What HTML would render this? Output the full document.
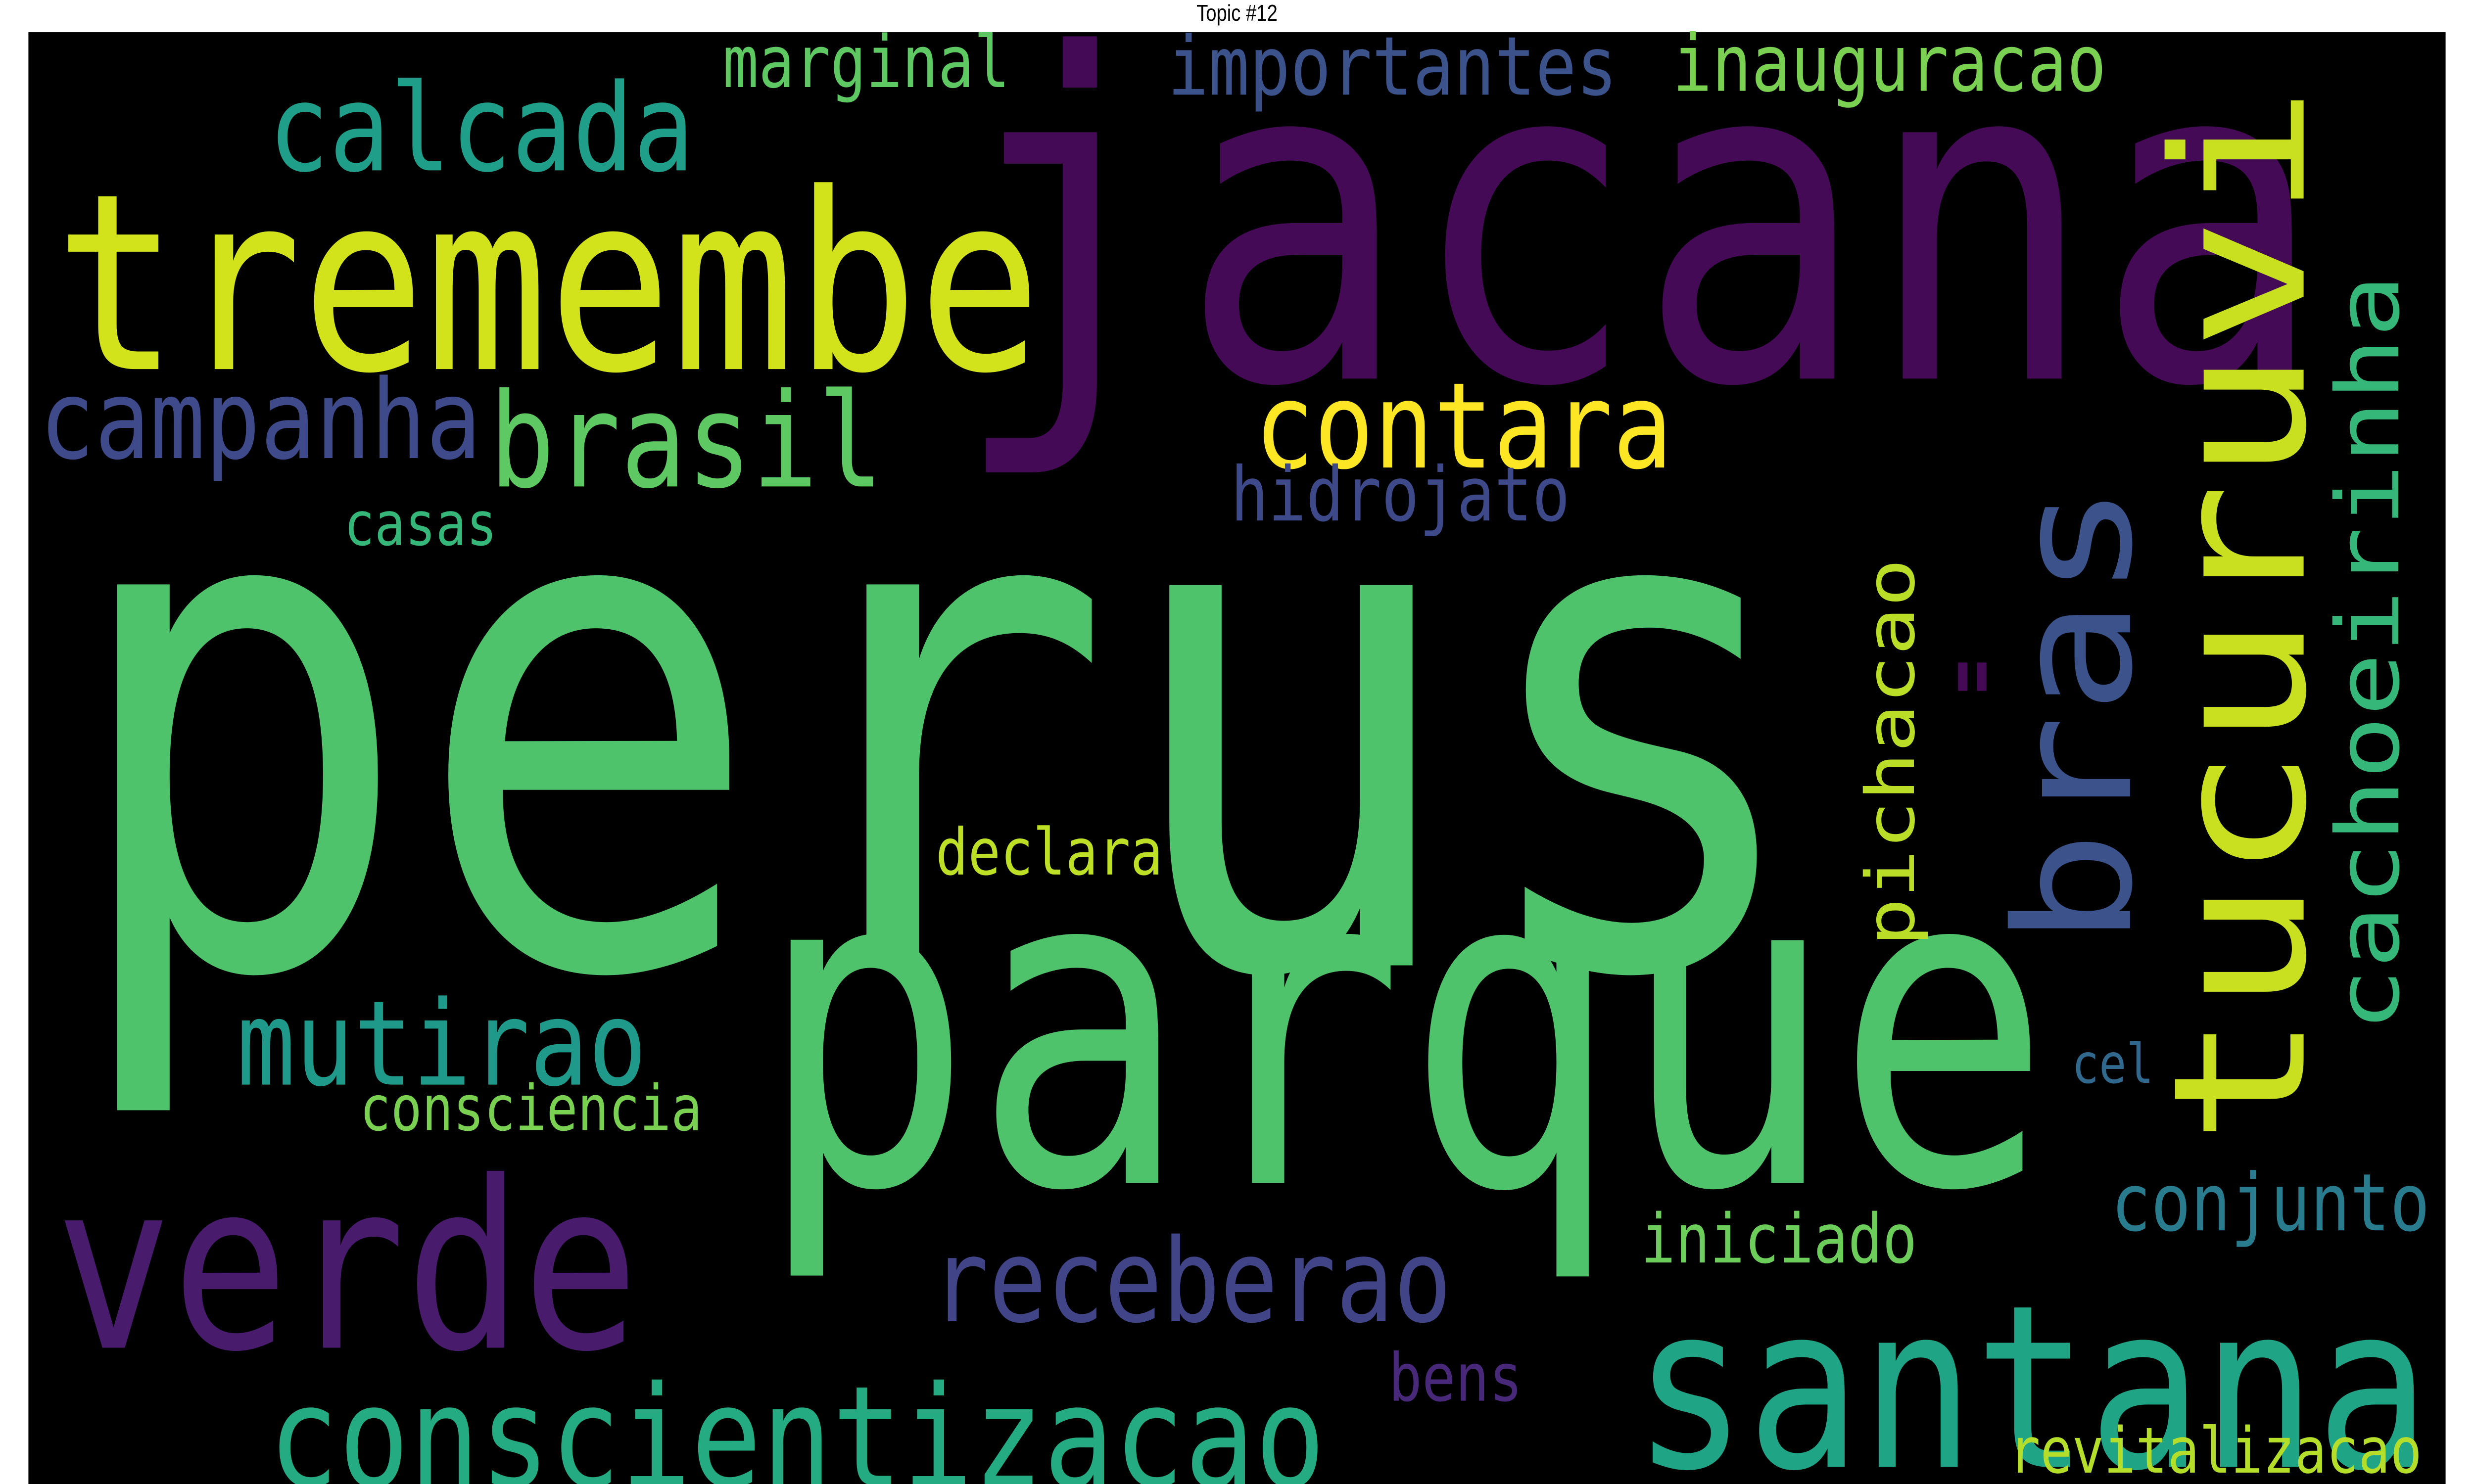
<!DOCTYPE html>
<html><head><meta charset="utf-8"><style>
html,body{margin:0;padding:0;background:#fff;width:100%;height:100%;overflow:hidden}
svg{display:block;position:absolute;left:0;top:0;width:100vw;height:100vh}
text.w{font-family:"DejaVu Sans Mono","Liberation Mono",monospace}
</style></head><body>
<svg id="cloud" viewBox="0 0 1568 784" preserveAspectRatio="none" xmlns="http://www.w3.org/2000/svg">
<text x="784" y="11" text-anchor="middle" font-family="Liberation Sans, sans-serif" font-size="12" fill="#000">Topic #12</text>
<rect x="18" y="17" width="1532" height="767" fill="#000"/>
<g fill="#440a55"><rect x="1241" y="350" width="6" height="15"/><rect x="1253" y="350" width="6" height="15"/></g>
<g id="words"></g>
</svg>
<script>
const words = ["perus","jacana","tremembe","parque","santana","verde","conscientizacao","receberao","mutirao","brasil","campanha","calcada","contara","importantes","inauguracao","marginal","hidrojato","casas","declara","consciencia","iniciado","bens","revitalizacao","cel","conjunto","bras","tucuruvi","pichacao","cachoeirinha"];
const sizes = [368,238,130,235,120,123,74,61,62,69,58,64,63,43,41.5,38,39.7,32,34,33,36,35,33.5,29,42,102,116,42.6,55];
const colors = ["#4ec36b","#440a55","#d2e21b","#4ec36b","#20a486","#481b6d","#25ab82","#414487","#1f9a8a","#5ec962","#3e4a89","#1f9e89","#fde725","#3b528b","#7ad151","#5ec962","#3e4989","#35b779","#bddf26","#7ad151","#6ccd5a","#482878","#b5de2b","#31688e","#297b8e","#3b528b","#c8e020","#bade28","#35b779"];
// layout: [x, baselineY, length, vertical]
const layout = [[40,510,1110,0],[603,200,870,0],[35,195,625,0],[480,625,820,0],[1035,775,505,0],[35,712,370,0],[170,785,670,0],[590,698,330,0],[150,573,260,0],[310,257,250,0],[25,242,280,0],[170,90,270,0],[795,247,265,0],[740,50,285,0],[1060,48,275,0],[458,46,182,0],[780,275,215,0],[218,288,97,0],[593,462,144,0],[228,597,217,0],[1040,667,175,0],[880,740,85,0],[1273,778,262,0],[1313,572,52,0],[1338,650,202,0],[1350,500,245,1],[1460,605,560,1],[1213,500,205,1],[1520,545,400,1]];
const g = document.getElementById('words');
const NS = "http://www.w3.org/2000/svg";
for (let i = 0; i < words.length; i++) {
  const t = document.createElementNS(NS, 'text');
  
  
  t.setAttribute('class', 'w');
  t.setAttribute('font-size', sizes[i]);
  t.setAttribute('fill', colors[i]);
  t.setAttribute('textLength', layout[i][2]);
  t.setAttribute('lengthAdjust', 'spacingAndGlyphs');
  if (layout[i][3]) {
    t.setAttribute('x', 0); t.setAttribute('y', 0);
    t.setAttribute('transform', 'translate(' + layout[i][0] + ',' + layout[i][1] + ') rotate(-90)');
  } else {
    t.setAttribute('x', layout[i][0]); t.setAttribute('y', layout[i][1]);
  }
  t.textContent = words[i];
  g.appendChild(t);
}
</script>
</body></html>
